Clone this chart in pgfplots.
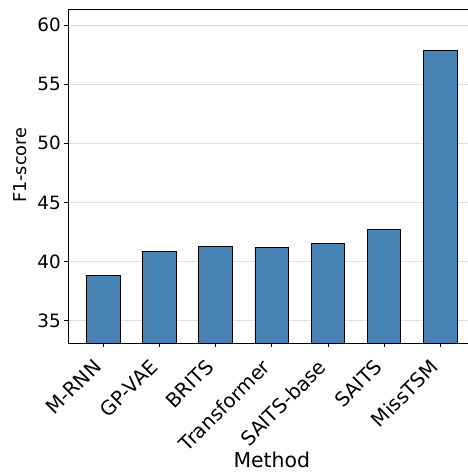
\documentclass[border=0pt]{standalone}
\usepackage{pgfplots}
\pgfplotsset{compat=1.18}
\usepackage{fontspec}
\setmainfont{DejaVu Sans}
\definecolor{barblue}{HTML}{4682B4}
\definecolor{gridgray}{HTML}{DDDDDD}
\begin{document}
\begin{tikzpicture}
\useasboundingbox (-68bp,-129.7bp) rectangle (400bp,343.3bp);
\begin{axis}[
  scale only axis,
  width=407.6bp, height=334.3bp,
  at={(0,0)}, anchor=south west,
  xmin=-0.63, xmax=6.63,
  ymin=33.1, ymax=61.35,
  ybar, bar width=0.6,
  xtick={0,1,2,3,4,5,6},
  xticklabels={M-RNN,GP-VAE,BRITS,Transformer,SAITS-base,SAITS,MissTSM},
  ytick={35,40,45,50,55,60},
  xtick pos=left, ytick pos=left,
  tick align=outside,
  major tick length=3.5bp,
  every tick/.style={black, line width=0.8bp},
  axis line style={black, line width=0.9bp},
  ymajorgrids,
  grid style={gridgray, line width=0.9bp},
  /pgf/number format/assume math mode=true,
  yticklabel style={font=\fontsize{18.4}{22}\selectfont, inner sep=0pt, xshift=-3.5bp},
  xticklabel style={font=\fontsize{19.8}{23}\selectfont, xshift=-11bp, yshift=-11bp, rotate=45, anchor=north east, inner sep=0pt},
  xlabel={Method},
  ylabel={F1-score},
  xlabel style={font=\fontsize{20.5}{24}\selectfont, at={(axis description cs:0.5,0)}, anchor=base, yshift=-124bp},
  ylabel style={font=\fontsize{17.8}{21}\selectfont, at={([xshift=-48bp]axis cs:-0.63,48.15)}, anchor=center},
]
\addplot[fill=barblue, draw=black, line width=0.9bp] coordinates {
  (0,38.81) (1,40.88) (2,41.27) (3,41.22) (4,41.50) (5,42.69) (6,57.88)
};
\end{axis}
\end{tikzpicture}
\end{document}
